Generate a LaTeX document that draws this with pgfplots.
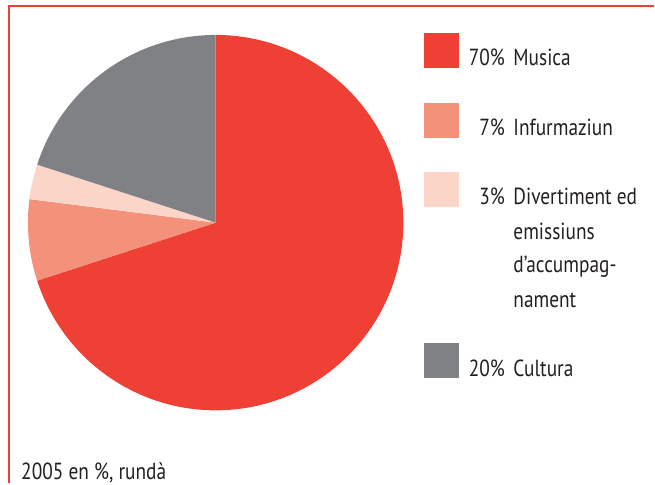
\documentclass[border=0pt]{standalone}
\usepackage{pgfplots}
\usepackage{pgfplotstable}
\pgfplotsset{compat=1.18}
\usepackage{fontspec}
\setmainfont{PT Sans}[FakeStretch=0.83]

\definecolor{musica}{RGB}{239,64,54}
\definecolor{infurm}{RGB}{244,145,122}
\definecolor{divert}{RGB}{251,214,200}
\definecolor{cultura}{RGB}{128,129,133}
\definecolor{txt}{RGB}{35,31,32}

% shares in percent, clockwise from 12 o'clock
\pgfplotstableread{
share
70
7
3
20
}\piedata

\begin{document}
\begin{tikzpicture}
% cumulative angles
\pgfplotstablegetelem{0}{share}\of\piedata \pgfmathsetmacro\aA{90-3.6*\pgfplotsretval}
\pgfplotstablegetelem{1}{share}\of\piedata \pgfmathsetmacro\aB{\aA-3.6*\pgfplotsretval}
\pgfplotstablegetelem{2}{share}\of\piedata \pgfmathsetmacro\aC{\aB-3.6*\pgfplotsretval}
\pgfplotstablegetelem{3}{share}\of\piedata \pgfmathsetmacro\aD{\aC-3.6*\pgfplotsretval}
\def\r{141pt}
\begin{axis}[
  x=0.75pt, y=0.75pt,
  xmin=0, xmax=655, ymin=0, ymax=484,
  hide axis, clip=false,
]
\path (axis cs:0,0) rectangle (axis cs:655,484);

% frame
\draw[musica, line width=1.6pt] (axis cs:8.7,0) -- (axis cs:8.7,478.3) -- (axis cs:655,478.3);

% pie
\fill[musica]  (axis cs:216,261) -- ++(90:\r)   arc[start angle=90,  end angle=\aA, radius=\r] -- cycle;
\fill[infurm]  (axis cs:216,261) -- ++(\aA:\r)  arc[start angle=\aA, end angle=\aB, radius=\r] -- cycle;
\fill[divert]  (axis cs:216,261) -- ++(\aB:\r)  arc[start angle=\aB, end angle=\aC, radius=\r] -- cycle;
\fill[cultura] (axis cs:216,261) -- ++(\aC:\r)  arc[start angle=\aC, end angle=\aD, radius=\r] -- cycle;

% legend
\fill[musica]  (axis cs:425,451) rectangle (axis cs:460,416);
\fill[infurm]  (axis cs:425,381) rectangle (axis cs:460,346);
\fill[divert]  (axis cs:425,312) rectangle (axis cs:460,277);
\fill[cultura] (axis cs:425,140) rectangle (axis cs:460,105);

\begin{scope}[every node/.style={text=txt, inner sep=0pt, font=\fontsize{17.5}{20}\selectfont}]
\node[anchor=base east] at (axis cs:506,418) {70\%};
\node[anchor=base west] at (axis cs:514,418) {Musica};
\node[anchor=base east] at (axis cs:506,348) {7\%};
\node[anchor=base west] at (axis cs:514,348) {Infurmaziun};
\node[anchor=base east] at (axis cs:506,279) {3\%};
\node[anchor=base west] at (axis cs:514,279) {Divertiment ed};
\node[anchor=base west] at (axis cs:514,244) {emissiuns};
\node[anchor=base west] at (axis cs:514,211) {d’accumpag-};
\node[anchor=base west] at (axis cs:514,176) {nament};
\node[anchor=base east] at (axis cs:506,107) {20\%};
\node[anchor=base west] at (axis cs:514,107) {Cultura};
\node[anchor=base west] at (axis cs:21,4) {2005 en \%, rundà};
\end{scope}
\end{axis}
\end{tikzpicture}
\end{document}
